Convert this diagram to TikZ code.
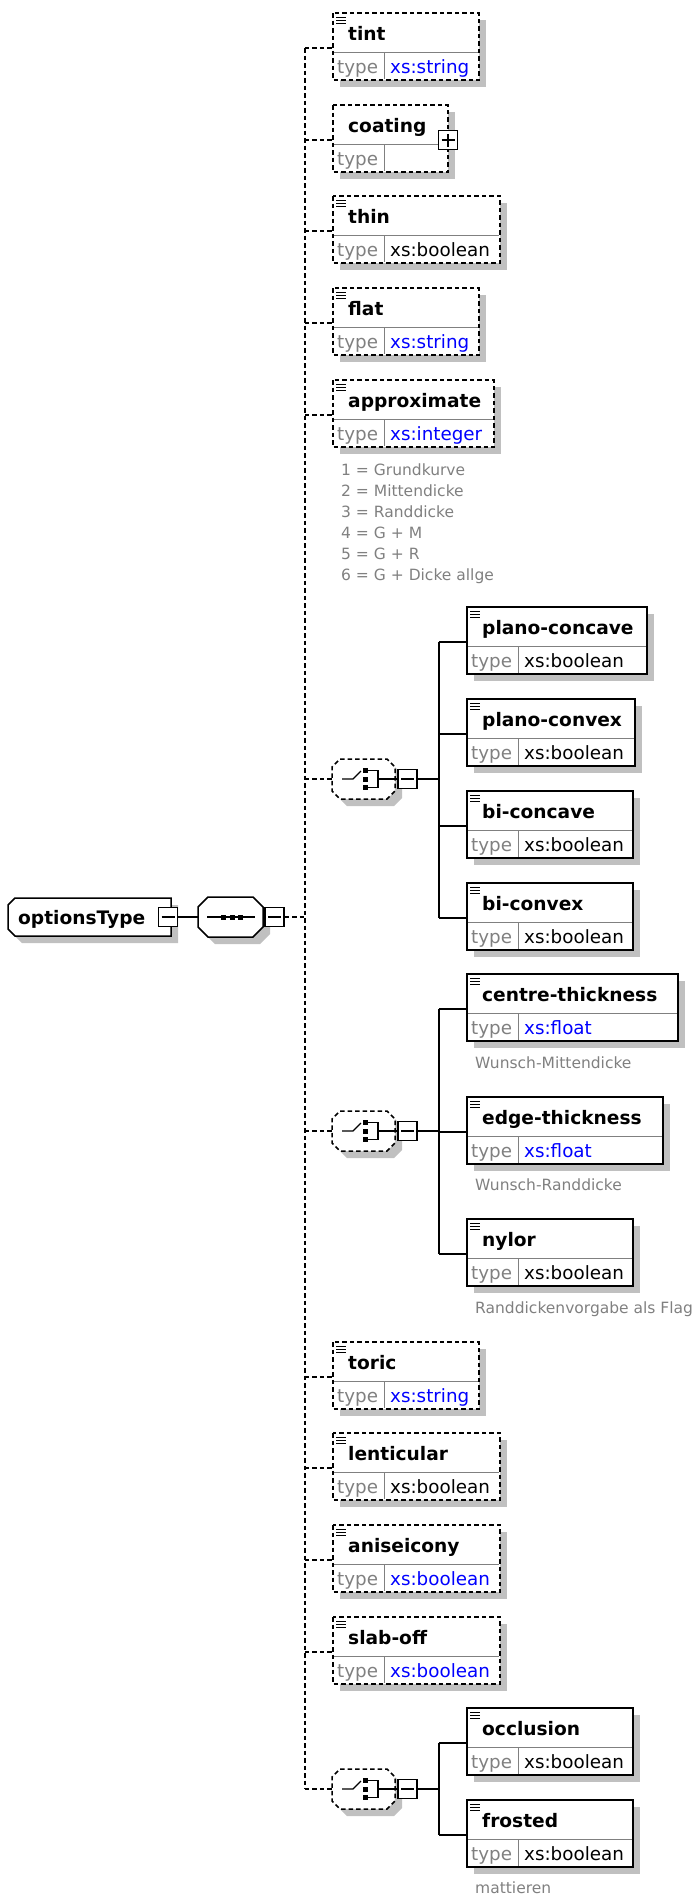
\documentclass[tikz,border=0pt]{standalone}
\usepackage{fontspec}
\setmainfont{DejaVu Sans}

\definecolor{shadowgray}{HTML}{C0C0C0}
\definecolor{txtgray}{HTML}{808080}
\definecolor{xsblue}{HTML}{0000FF}

\tikzset{
  lbl/.style={font=\bfseries\fontsize{18.6}{22}\selectfont, inner sep=0pt, anchor=base west},
  typ/.style={font=\fontsize{18.3}{22}\selectfont, inner sep=0pt, anchor=base west},
  note/.style={font=\fontsize{15.5}{21}\selectfont, text=txtgray, inner sep=0pt, anchor=base west},
  box/.style={fill=white, line width=1.5pt,
              preaction={fill=shadowgray, transform canvas={xshift=7pt, yshift=-7pt}}},
  opt/.style={dash pattern=on 4.5pt off 3pt},
  wire/.style={line width=1.5pt},
  minus/.style={draw, fill=white, line width=1.5pt, minimum size=19pt, inner sep=0pt,
    path picture={\draw[line width=1.2pt] ([xshift=3pt]path picture bounding box.west)
                                       -- ([xshift=-3pt]path picture bounding box.east);}},
  plus/.style={draw, fill=white, line width=1.5pt, minimum size=19pt, inner sep=0pt,
    path picture={\draw[line width=1.2pt] ([xshift=3pt]path picture bounding box.west)
                                       -- ([xshift=-3pt]path picture bounding box.east)
                                          ([yshift=3pt]path picture bounding box.south)
                                       -- ([yshift=-3pt]path picture bounding box.north);}},
}

% element box: name, left, top, width, type, border, type colour
\newcommand\xelem[7]{%
  \draw[box,#6] (#2,#3) rectangle ++(#4,67);
  \draw[txtgray, line width=1pt] (#2+1,#3+39) -- ++(#4-2,0) (#2+51,#3+39) -- ++(0,27);
  \foreach \k in {4,7,10} \draw[line width=1pt] (#2+3,#3+\k) -- ++(10,0);
  \node[lbl] (#1) at (#2+15,#3+27) {#1};
  \node[typ, text=txtgray] (#1-type) at (#2+4,#3+60) {type};
  \node[typ, text=#7] (#1-xs) at (#2+57,#3+60) {#5};
  \coordinate (#1-in) at (#2,#3+35);
}

% choice compositor: name, centre y
\newcommand\xchoice[2]{%
  \draw[box,opt] (340,#2-20) -- (387,#2-20) -- (395,#2-12) -- (395,#2+12) -- (387,#2+20)
                 -- (340,#2+20) -- (332,#2+12) -- (332,#2-12) -- cycle;
  \node[minimum width=63pt, minimum height=40pt, inner sep=0pt] (#1) at (363.5,#2) {};
  \draw[line width=1.2pt] (342,#2) -- (353,#2) -- (361,#2-8);
  \foreach \k in {0,8.5,17} \fill (363,#2-11+\k) rectangle ++(5,5);
  \draw[line width=1.2pt] (368,#2-8.5) -| (378,#2+8.5) -- (368,#2+8.5) (378,#2) -- (398,#2);
  \node[minus] (#1-pm) at (407.5,#2) {};
  \draw[wire] (#1-pm.east) -- ++(21,0) coordinate (#1-bus);
}

\begin{document}
\begin{tikzpicture}[x=1pt, y=-1pt]
    \useasboundingbox (0,0) rectangle (698,1898);
    % optionsType
    \draw[box] (15,898) -- (171,898) -- (171,936) -- (15,936) -- (8,929) -- (8,905) -- cycle;
    \node[lbl] (root) at (18,924) {optionsType};
    \node[minus] (root-pm) at (168,917) {};
    % sequence
    \draw[box] (208,897) -- (253,897) -- (263,907) -- (263,927) -- (253,937) -- (208,937)
               -- (198,927) -- (198,907) -- cycle;
    \node[minimum width=65pt, minimum height=40pt, inner sep=0pt] (seq) at (230.5,917) {};
    \draw[line width=1.2pt] (207,917) -- (255,917);
    \foreach \k in {221,229.5,238} \fill (\k,914.5) rectangle ++(5,5);
    \node[minus] (seq-pm) at (274.5,917) {};
    \draw[wire] (root-pm.east) -- (seq.west);
    \draw[wire,opt] (seq-pm.east) -- ++(20,0) coordinate (spine);
    % optional elements
    \foreach \nm/\ty/\bw/\tv/\tc in {tint/13/146/xs:string/xsblue,
            thin/196/167/xs:boolean/black, flat/288/146/xs:string/xsblue,
            approximate/380/161/xs:integer/xsblue, toric/1342/146/xs:string/xsblue,
            lenticular/1433/167/xs:boolean/black, aniseicony/1525/167/xs:boolean/xsblue,
            slab-off/1617/167/xs:boolean/xsblue}
        \xelem{\nm}{333}{\ty}{\bw}{\tv}{opt}{\tc};
    % coating
    \draw[box,opt] (333,105) rectangle ++(115,67);
    \draw[txtgray, line width=1pt] (334,144) -- ++(113,0) (384,144) -- ++(0,27);
    \node[lbl] (coating) at (348,132) {coating};
    \node[typ, text=txtgray] (coating-type) at (337,165) {type};
    \node[plus] (coating-pm) at (448,140) {};
    \coordinate (coating-in) at (333,140);
    % approximate values
    \foreach \t [count=\i from 0] in {1 = Grundkurve, 2 = Mittendicke, 3 = Randdicke,
            4 = G + M, 5 = G + R, 6 = G + Dicke allge}
        \node[note] (apx-note-\i) at (341,475+21*\i) {\t};
    % lens form
    \xchoice{lens}{779}
    \foreach \nm/\ty/\bw in {plano-concave/607/180, plano-convex/699/168,
            bi-concave/791/166, bi-convex/883/166}
        \xelem{\nm}{467}{\ty}{\bw}{xs:boolean}{solid}{black};
    \draw[wire] (lens-bus |- plano-concave-in) -- (lens-bus |- bi-convex-in);
    \foreach \nm in {plano-concave,plano-convex,bi-concave,bi-convex}
        \draw[wire] (lens-bus |- \nm-in) -- (\nm-in);
    % thickness
    \xchoice{thick}{1131}
    \foreach \nm/\ty/\bw/\tv/\tc in {centre-thickness/974/211/xs:float/xsblue,
            edge-thickness/1097/196/xs:float/xsblue, nylor/1219/166/xs:boolean/black}
        \xelem{\nm}{467}{\ty}{\bw}{\tv}{solid}{\tc};
    \node[note] (centre-note) at (475,1068) {Wunsch-Mittendicke};
    \node[note] (edge-note) at (475,1190) {Wunsch-Randdicke};
    \node[note] (nylor-note) at (475,1313) {Randdickenvorgabe als Flag};
    \draw[wire] (thick-bus |- centre-thickness-in) -- (thick-bus |- nylor-in);
    \foreach \nm in {centre-thickness,edge-thickness,nylor}
        \draw[wire] (thick-bus |- \nm-in) -- (\nm-in);
    % surface
    \xchoice{surf}{1789}
    \foreach \nm/\ty in {occlusion/1708, frosted/1800}
        \xelem{\nm}{467}{\ty}{166}{xs:boolean}{solid}{black};
    \node[note] (frosted-note) at (475,1893) {mattieren};
    \draw[wire] (surf-bus |- occlusion-in) -- (surf-bus |- frosted-in);
    \foreach \nm in {occlusion,frosted}
        \draw[wire] (surf-bus |- \nm-in) -- (\nm-in);
    % spine
    \draw[wire,opt] (spine |- tint-in) -- (spine |- surf);
    \foreach \nm in {tint,coating,thin,flat,approximate,toric,lenticular,aniseicony,slab-off}
        \draw[wire,opt] (spine |- \nm-in) -- (\nm-in);
    \foreach \nm in {lens,thick,surf}
        \draw[wire,opt] (spine |- \nm) -- (\nm.west);
\end{tikzpicture}
\end{document}
